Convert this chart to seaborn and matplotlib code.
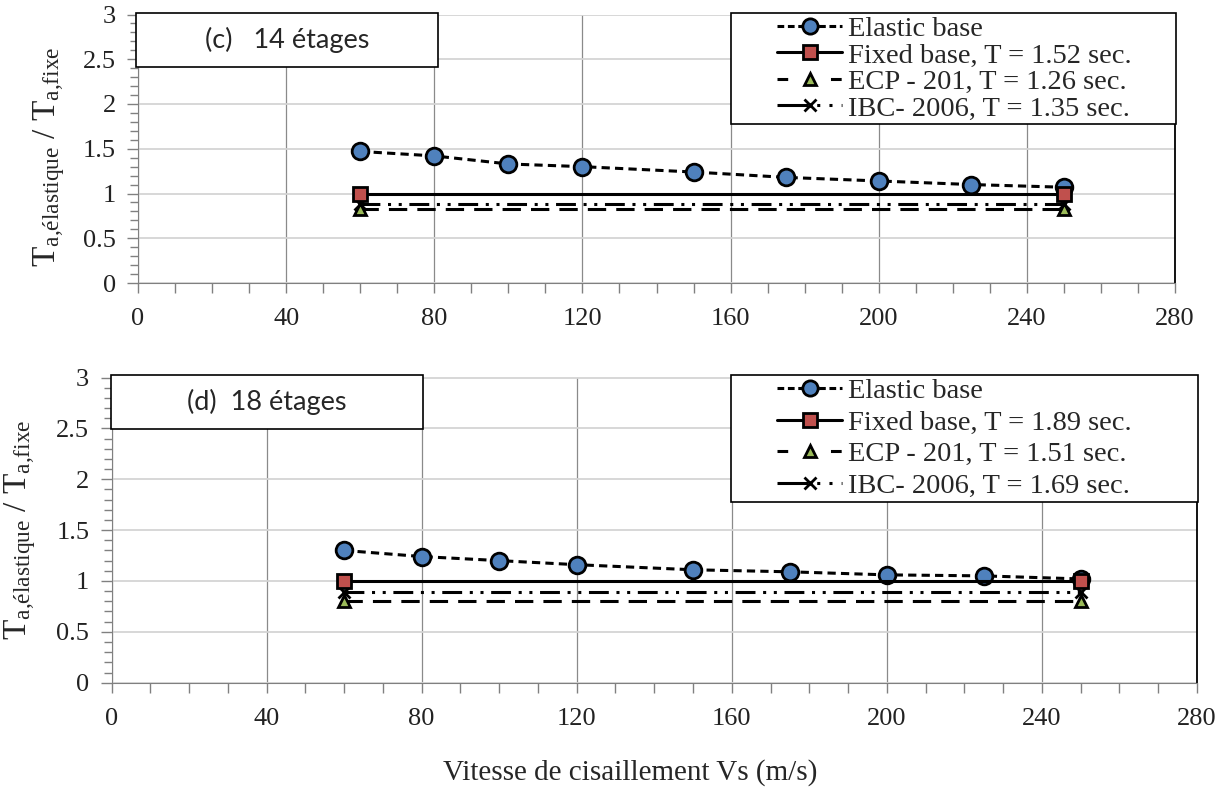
import matplotlib
matplotlib.use('Agg')
import matplotlib.pyplot as plt
from matplotlib.lines import Line2D
from matplotlib.patches import Rectangle
from matplotlib.ticker import MultipleLocator, FuncFormatter
import seaborn as sns
import pandas as pd

# shear-wave velocity (m/s) where the elastic-base models were run
vs = [60, 80, 100, 120, 150, 175, 200, 225, 250]
vs_ends = [60, 250]

# T_elastic / T_fixed ratios
elastic_14 = [1.47, 1.42, 1.33, 1.30, 1.24, 1.18, 1.14, 1.10, 1.07]
elastic_18 = [1.30, 1.24, 1.20, 1.16, 1.11, 1.09, 1.06, 1.05, 1.02]

# fundamental periods (sec.) for each building
t_fixed = [1.52, 1.89]
t_ecp = [1.26, 1.51]
t_ibc = [1.35, 1.69]

panel_titles = ['(c)   14 étages', '(d)  18 étages']
y_ticks = [0, 0.5, 1, 1.5, 2, 2.5, 3]
x_ticks = [0, 40, 80, 120, 160, 200, 240, 280]

BLUE = '#4F81BD'
RED = '#C0504D'
GREEN = '#9BBB59'

sns.set_style('white')
plt.rcParams['font.family'] = ['Liberation Serif', 'DejaVu Serif']
plt.rcParams['mathtext.fontset'] = 'custom'
plt.rcParams['mathtext.rm'] = 'Liberation Serif'
plt.rcParams['mathtext.it'] = 'Liberation Serif:italic'

fig = plt.figure(figsize=(12.26, 7.87), dpi=100)

W, H = 1226, 787
# pixel boxes of the two panels: left, top, right, bottom
boxes = [(138, 14.5, 1175, 283), (111.5, 377.5, 1197, 682.7)]
legend_frames = [(731, 13, 1175.5, 124), (731, 375, 1197.5, 502)]
legend_spacing = [0.02, 0.2]
legend_drop = [3, 3]
ylabel_right = [67, 38]
title_boxes = [(136, 13, 438, 67), (111, 375, 423, 429)]

ls_elastic = (0, (2.7, 1.7))
ls_ecp = (0, (6, 3.3))
ls_ibc = (0, (6.5, 2.5, 1, 2.5, 1, 2.5))

for i in range(2):
    l, t, r, b = boxes[i]
    ax = fig.add_axes([l / W, 1 - b / H, (r - l) / W, (b - t) / H])

    elastic = [elastic_14, elastic_18][i]
    ecp_ratio = t_ecp[i] / t_fixed[i]
    ibc_ratio = t_ibc[i] / t_fixed[i]

    df_el = pd.DataFrame({'vs': vs, 'ratio': elastic})
    df_fixed = pd.DataFrame({'vs': vs_ends, 'ratio': [1.0, 1.0]})
    df_ecp = pd.DataFrame({'vs': vs_ends, 'ratio': [ecp_ratio] * 2})
    df_ibc = pd.DataFrame({'vs': vs_ends, 'ratio': [ibc_ratio] * 2})

    sns.lineplot(data=df_el, x='vs', y='ratio', ax=ax, color='k', lw=2.2,
                 linestyle=ls_elastic, marker='o', markersize=12,
                 markerfacecolor=BLUE, markeredgecolor='k', markeredgewidth=2,
                 legend=False, zorder=4)
    sns.lineplot(data=df_ecp, x='vs', y='ratio', ax=ax, color='k', lw=2.2,
                 linestyle=ls_ecp, marker='^', markersize=9,
                 markerfacecolor=GREEN, markeredgecolor='k', markeredgewidth=2,
                 legend=False, zorder=3)
    sns.lineplot(data=df_ibc, x='vs', y='ratio', ax=ax, color='k', lw=2.2,
                 linestyle=ls_ibc, marker='x', markersize=8,
                 markeredgecolor='k', markeredgewidth=2,
                 legend=False, zorder=3)
    sns.lineplot(data=df_fixed, x='vs', y='ratio', ax=ax, color='k', lw=2.2,
                 linestyle='-', marker='s', markersize=10,
                 markerfacecolor=RED, markeredgecolor='k', markeredgewidth=2,
                 legend=False, zorder=5)

    ax.set_xlim(0, 280)
    ax.set_ylim(0, 3)
    ax.set_xticks(x_ticks)
    ax.set_yticks(y_ticks)
    ax.yaxis.set_major_formatter(FuncFormatter(lambda v, p: f'{v:g}'))
    ax.xaxis.set_minor_locator(MultipleLocator(10))
    ax.yaxis.set_minor_locator(MultipleLocator(0.1))
    ax.tick_params(axis='both', which='both', direction='out', color='#808080',
                   width=1, labelsize=19, labelcolor='#222222')
    ax.tick_params(axis='y', which='major', length=8, pad=8)
    ax.tick_params(axis='y', which='minor', length=6)
    ax.tick_params(axis='x', which='both', length=7, pad=11)
    ax.tick_params(left=True, bottom=True, which='both')

    ax.set_axisbelow(True)
    ax.grid(axis='y', which='major', color='#d4d4d4', lw=1.3)
    ax.grid(axis='x', which='major', color='#8a8a8a', lw=0.9)

    ax.spines['top'].set_visible(False)
    ax.spines['left'].set_color('#808080')
    ax.spines['bottom'].set_color('#808080')
    ax.spines['right'].set_color('k')
    ax.spines['right'].set_linewidth(1.3)

    ax.set_xlabel('')
    ax.set_ylabel(r'$\mathrm{T}_{\mathrm{a{,}élastique}}\ /\ \mathrm{T}_{\mathrm{a{,}fixe}}$',
                  fontsize=24)
    ax.yaxis.set_label_coords((ylabel_right[i] - l) / (r - l), 0.47 if i == 0 else 0.5)

    handles = [
        Line2D([], [], color='k', lw=2.2, linestyle=(0, (2.2, 1.2)), marker='o',
               markersize=11, markerfacecolor=BLUE, markeredgecolor='k',
               markeredgewidth=2),
        Line2D([], [], color='k', lw=2.2, linestyle='-', marker='s',
               markersize=10, markerfacecolor=RED, markeredgecolor='k',
               markeredgewidth=2),
        Line2D([], [], color='k', lw=2.2, linestyle=(0, (3.5, 14)), marker='^',
               markersize=9, markerfacecolor=GREEN, markeredgecolor='k',
               markeredgewidth=2),
        Line2D([], [], color='k', lw=2.2, linestyle=(0, (10, 3, 1, 3, 1, 3)),
               marker='x', markersize=8, markeredgecolor='k', markeredgewidth=2),
    ]
    labels = ['Elastic base',
              f'Fixed base, T = {t_fixed[i]:.2f} sec.',
              f'ECP - 201, T = {t_ecp[i]:.2f} sec.',
              f'IBC- 2006, T = {t_ibc[i]:.2f} sec.']

    # legend frame drawn as its own box, legend entries placed inside it
    fx0, fy0, fx1, fy1 = legend_frames[i]
    fig.patches.append(Rectangle((fx0 / W, 1 - fy1 / H), (fx1 - fx0) / W,
                                 (fy1 - fy0) / H, transform=fig.transFigure,
                                 facecolor='white', edgecolor='k', lw=1.2,
                                 zorder=10))
    leg = fig.legend(handles, labels, loc='upper left',
                     bbox_to_anchor=((fx0 + 46) / W, 1 - (fy0 + legend_drop[i]) / H),
                     fontsize=20.5, frameon=False, handlelength=2.3,
                     handletextpad=0.2, borderpad=0, borderaxespad=0,
                     labelspacing=legend_spacing[i])
    leg.set_zorder(11)

    # panel title box
    bx0, by0, bx1, by1 = title_boxes[i]
    fig.patches.append(Rectangle((bx0 / W, 1 - by1 / H), (bx1 - bx0) / W,
                                 (by1 - by0) / H, transform=fig.transFigure,
                                 facecolor='white', edgecolor='k', lw=1.2,
                                 zorder=10))
    fig.text((bx0 + bx1) / 2 / W, 1 - (by0 + by1) / 2 / H, panel_titles[i],
             ha='center', va='center', fontsize=19.5, family=['Lato', 'DejaVu Sans'],
             zorder=11)

fig.text(630 / W, 1 - 773 / H, 'Vitesse de cisaillement Vs (m/s)',
         ha='center', va='center', fontsize=21)

fig.savefig('out.png', dpi=100, facecolor='white')
